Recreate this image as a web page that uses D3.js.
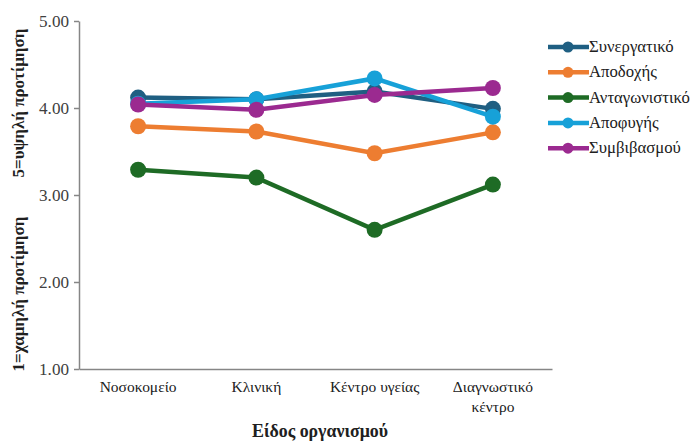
<!DOCTYPE html>
<html><head><meta charset="utf-8">
<script src="https://cdn.jsdelivr.net/npm/d3@7"></script>
<style>body{margin:0;background:#fff}svg{display:block}</style>
</head><body><svg id="c" width="691" height="442"></svg>
<script>
const categories = [["Νοσοκομείο"], ["Κλινική"], ["Κέντρο υγείας"], ["Διαγνωστικό", "κέντρο"]];
const seriesNames = ["Συνεργατικό", "Αποδοχής", "Ανταγωνιστικό", "Αποφυγής", "Συμβιβασμού"];
const synergatiko = [4.12, 4.10, 4.19, 3.99];
const apodochis = [3.79, 3.73, 3.48, 3.72];
const antagonistiko = [3.29, 3.20, 2.60, 3.12];
const apofygis = [4.05, 4.10, 4.34, 3.90];
const symvivasmou = [4.04, 3.98, 4.15, 4.23];
const colors = ["#1f5f82", "#ed7d31", "#1e6b25", "#17a1d8", "#9b2a90"];
const yTicks = [1, 2, 3, 4, 5];

const series = [synergatiko, apodochis, antagonistiko, apofygis, symvivasmou];
const svg = d3.select("#c");
const serif = "Liberation Serif";
const x = d3.scaleBand().domain(d3.range(categories.length)).range([79, 552]);
const y = d3.scaleLinear().domain([1, 5]).range([369, 21]);

// font size giving a text the width seen in the reference
function fitSize(txt, width, bold) {
  const t = svg.append("text").style("font-family", serif).style("font-size", "100px")
    .style("font-weight", bold ? "bold" : "normal").text(txt);
  const w = t.node().getComputedTextLength();
  t.remove();
  return Math.min(20, Math.max(10, 100 * width / w));
}
const tickSize = fitSize("Νοσοκομείο", 77, false);
const ySize = fitSize("5.00", 30, false);
const legSize = fitSize("Ανταγωνιστικό", 101, false);
const titleSize = fitSize("5=υψηλή προτίμηση", 149, true);
const xTitleSize = fitSize("Είδος οργανισμού", 136, true);

const yAxis = svg.append("g").attr("transform", "translate(79,0)")
  .call(d3.axisLeft(y).tickValues(yTicks).tickFormat(d3.format(".2f")).tickSize(5).tickSizeOuter(0));
yAxis.attr("font-family", null);
yAxis.select(".domain").attr("stroke", "#868686").attr("stroke-width", 1.5);
yAxis.selectAll(".tick line").attr("stroke", "#868686").attr("stroke-width", 1.5);
yAxis.selectAll(".tick text").style("font-family", serif).style("font-size", ySize + "px").attr("fill", "#404040").attr("x", -10);

const xAxis = svg.append("g").attr("transform", "translate(0,369)")
  .call(d3.axisBottom(x).tickSize(0).tickSizeOuter(0).tickFormat(""));
xAxis.attr("font-family", null);
xAxis.select(".domain").attr("stroke", "#868686").attr("stroke-width", 1.5);
xAxis.selectAll(".tick").each(function(d) {
  const t = d3.select(this).append("text").style("font-family", serif).style("font-size", tickSize + "px")
    .attr("fill", "#202020").attr("text-anchor", "middle");
  categories[d].forEach((s, i) => t.append("tspan").attr("x", 0).attr("y", 23 + i * 20).text(s));
});

const cx = i => x(i) + x.bandwidth() / 2;
const line = d3.line().x((d, i) => cx(i)).y(d => y(d));
series.forEach((s, k) => {
  const g = svg.append("g");
  g.append("path").datum(s).attr("d", line).attr("fill", "none").attr("stroke", colors[k]).attr("stroke-width", 4.5);
  g.selectAll("circle").data(s).join("circle").attr("cx", (d, i) => cx(i)).attr("cy", d => y(d)).attr("r", 8).attr("fill", colors[k]);
});

const leg = svg.append("g");
seriesNames.forEach((n, k) => {
  const yy = 47 + k * 25.3;
  leg.append("line").attr("x1", 548).attr("x2", 589).attr("y1", yy).attr("y2", yy).attr("stroke", colors[k]).attr("stroke-width", 4.5);
  leg.append("circle").attr("cx", 568).attr("cy", yy).attr("r", 5.5).attr("fill", colors[k]);
  leg.append("text").attr("x", 589).attr("y", yy + 5).style("font-family", serif).style("font-size", legSize + "px").attr("fill", "#202020").text(n);
});

svg.append("text").attr("transform", "translate(24,103) rotate(-90)").attr("text-anchor", "middle")
  .style("font-family", serif).style("font-size", titleSize + "px").style("font-weight", "bold").attr("fill", "#202020").text("5=υψηλή προτίμηση");
svg.append("text").attr("transform", "translate(24,294) rotate(-90)").attr("text-anchor", "middle")
  .style("font-family", serif).style("font-size", titleSize + "px").style("font-weight", "bold").attr("fill", "#202020").text("1=χαμηλή προτίμηση");
svg.append("text").attr("x", 320).attr("y", 437).attr("text-anchor", "middle")
  .style("font-family", serif).style("font-size", xTitleSize + "px").style("font-weight", "bold").attr("fill", "#202020").text("Είδος οργανισμού");
</script></body></html>
